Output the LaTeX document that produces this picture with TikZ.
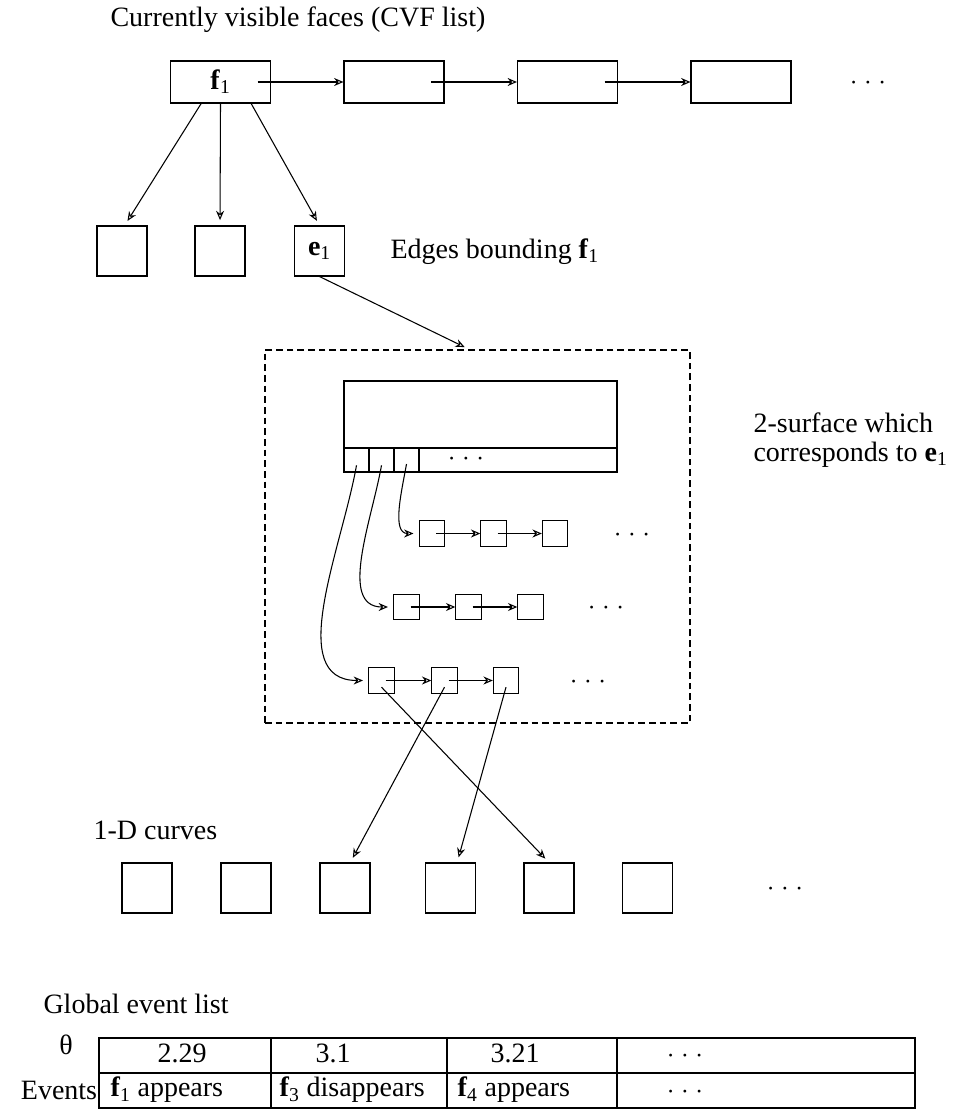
\documentclass[tikz,border=0pt]{standalone}
\usepackage{amsmath}
\usepackage{fontspec}
\setmainfont{Liberation Serif}
\usetikzlibrary{arrows.meta, positioning}
\newcommand{\vb}[2]{\textbf{#1}$_{\text{#2}}$}
\newcommand{\dotsgap}{$\cdot$\hspace{5pt}$\cdot$\hspace{5pt}$\cdot$}

\begin{document}
\begin{tikzpicture}[
    x=0.75pt, y=-0.75pt, line width=0.8pt,
    font=\fontsize{21}{24}\selectfont,
    listbox/.style={rectangle, draw, minimum width=75pt, minimum height=31.5pt, inner sep=0pt},
    edgebox/.style={rectangle, draw, minimum size=37.5pt, inner sep=0pt},
    cellbox/.style={rectangle, draw, minimum size=19pt, inner sep=0pt},
    slot/.style={rectangle, draw, minimum width=18.75pt, minimum height=18pt, inner sep=0pt},
    evcell/.style={rectangle, draw, minimum height=26.25pt, inner sep=0pt},
    lbl/.style={anchor=west, inner sep=0pt},
    ptr/.style={-{Stealth[open, length=7pt, width=6pt]}},
]
    \useasboundingbox (0,0) rectangle (962,1111);

    % CVF list
    \node[lbl] (cvftitle) at (110,20) {Currently visible faces (CVF list)};
    \node[listbox] (f1) at (220.5,82) {\vb{f}{1}};
    \node[listbox] (f2) at (394,82) {};
    \node[listbox] (f3) at (567.5,82) {};
    \node[listbox] (f4) at (741,82) {};
    \node (fdots) at (868,83) {\dotsgap};
    \foreach \a/\b in {f1/f2, f2/f3, f3/f4}
        \draw[ptr] ([xshift=-10pt]\a.east) -- (\b.west);

    % edges bounding f1
    \node[edgebox] (eb1) at (122,251) {};
    \node[edgebox] (eb2) at (220,251) {};
    \node[edgebox] (e1) at (319.5,251) {\vb{e}{1}};
    \node[lbl] (edgelbl) at (390,252) {Edges bounding \vb{f}{1}};
    \draw[ptr, shorten >=4pt] ([xshift=-14.5pt]f1.south) -- ([xshift=2pt]eb1.north);
    \draw[ptr, shorten >=4pt] (f1.south) -- (eb2.north);
    \draw[ptr, shorten >=4pt] ([xshift=23pt]f1.south) -- (e1.north);

    % 2-surface of e1
    \node[rectangle, draw, dash pattern=on 5pt off 3pt, minimum width=318.75pt, minimum height=279.75pt] (surf) at (477.5,536.5) {};
    \node[lbl, align=left, font=\fontsize{21}{22}\selectfont] (surflbl) at (753,440) {2-surface which\\corresponds to \vb{e}{1}};
    \draw[ptr, shorten >=4pt] (e1.south) -- ([xshift=-6pt]surf.north);

    \node[rectangle, draw, minimum width=204.75pt, minimum height=50.25pt, inner sep=0pt] (shead) at (480.5,414.5) {};
    \node[slot] (s1) at (356.5,460) {};
    \node[slot] (s2) at (381.5,460) {};
    \node[slot] (s3) at (406.5,460) {};
    \node[rectangle, draw, minimum width=148.5pt, minimum height=18pt, inner sep=0pt] (srest) at (518,460) {};
    \node (sdots) at (466,459) {\dotsgap};

    % curve lists
    \foreach \i/\x in {1/432, 2/493.5, 3/555}
        \node[cellbox] (ra\i) at (\x,533.5) {};
    \foreach \i/\x in {1/406.5, 2/468.5, 3/530.5}
        \node[cellbox] (rb\i) at (\x,607) {};
    \foreach \i/\x in {1/381.5, 2/444.5, 3/506}
        \node[cellbox] (rc\i) at (\x,680.5) {};
    \node (radots) at (632,535) {\dotsgap};
    \node (rbdots) at (606,608) {\dotsgap};
    \node (rcdots) at (588,682) {\dotsgap};
    \foreach \r in {ra, rb, rc} {
        \draw[ptr] ([xshift=3pt]\r1.center) -- (\r2.west);
        \draw[ptr] ([xshift=3pt]\r2.center) -- (\r3.west);
    }
    \draw[ptr, shorten >=4pt] ([yshift=-3pt]s3.center) to[out=-100, in=180] (ra1.west);
    \draw[ptr, shorten >=4pt] ([yshift=-4pt]s2.center) to[out=-100, in=180] (rb1.west);
    \draw[ptr, shorten >=4pt] ([yshift=-4pt]s1.center) to[out=-100, in=180] (rc1.west);

    % 1-D curves
    \node[lbl] (curvelbl) at (93,830) {1-D curves};
    \foreach \i/\x in {1/147, 2/246, 3/345, 4/450.5, 5/549, 6/647.5}
        \node[edgebox] (cb\i) at (\x,888) {};
    \node (cbdots) at (785,889) {\dotsgap};
    \draw[ptr, shorten >=4pt] ([yshift=-5pt]rc1.center) -- (cb5.north);
    \draw[ptr, shorten >=4pt] ([yshift=-5pt]rc2.center) -- ([xshift=4pt]cb3.north);
    \draw[ptr, shorten >=4pt] ([yshift=-5pt]rc3.center) -- ([xshift=5pt]cb4.north);

    % global event list
    \node[lbl] (evlbl) at (43,1004) {Global event list};
    \node (thlbl) at (66,1045) {θ};
    \node[anchor=east, inner sep=1pt] (evrow) at (99,1090.5) {Events};
    \node[evcell, minimum width=129pt] (t1) at (185,1055.5) {};
    \node[evcell, minimum width=132pt] (t2) at (359,1055.5) {};
    \node[evcell, minimum width=127.5pt] (t3) at (532,1055.5) {};
    \node[evcell, minimum width=223.5pt] (t4) at (766,1055.5) {};
    \node[evcell, minimum width=129pt] (u1) at (185,1090.5) {};
    \node[evcell, minimum width=132pt] (u2) at (359,1090.5) {};
    \node[evcell, minimum width=127.5pt] (u3) at (532,1090.5) {};
    \node[evcell, minimum width=223.5pt] (u4) at (766,1090.5) {};
    \node (v1) at (182,1053) {2.29};
    \node (v2) at (333,1053) {3.1};
    \node (v3) at (515,1053) {3.21};
    \node (v4) at (685,1056) {\dotsgap};
    \node[lbl] (w1) at (110,1090) {\vb{f}{1} appears};
    \node[lbl] (w2) at (279,1090) {\vb{f}{3} disappears};
    \node[lbl] (w3) at (457,1090) {\vb{f}{4} appears};
    \node (w4) at (685,1092) {\dotsgap};
\end{tikzpicture}
\end{document}
